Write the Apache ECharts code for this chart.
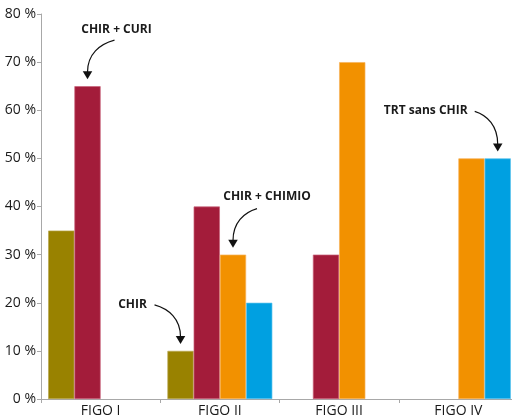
<!DOCTYPE html>
<html>
<head>
<meta charset="utf-8">
<script src="https://cdn.jsdelivr.net/npm/echarts@6/dist/echarts.min.js"></script>
<style>html,body{margin:0;padding:0;background:#fff}#c{width:512px;height:418px}</style>
</head>
<body>
<div id="c"></div>
<script>
const categories = ['FIGO I', 'FIGO II', 'FIGO III', 'FIGO IV'];
const chirValues = [35, 10, '-', '-'];
const chirCuriValues = [65, 40, 30, '-'];
const chirChimioValues = ['-', 30, 70, 50];
const trtSansChirValues = ['-', 20, '-', 50];
const yTicks = [0, 10, 20, 30, 40, 50, 60, 70, 80];

// annotations: label, series index, category index, value, text offset, curve start offset
const annotations = [
  { text: 'CHIR + CURI', s: 1, c: 0, v: 65, tx: 29, ty: -50, sx: 27, sy: -39 },
  { text: 'CHIR + CHIMIO', s: 2, c: 1, v: 30, tx: 34, ty: -51, sx: 24, sy: -39 },
  { text: 'CHIR', s: 0, c: 1, v: 10, tx: -48, ty: -39, sx: -26, sy: -39 },
  { text: 'TRT sans CHIR', s: 3, c: 3, v: 50, tx: -72, ty: -41, sx: -23, sy: -40 }
];

const colors = ['#998200', '#a31c3a', '#f29100', '#00a0e1'];
const borders = ['#b8a850', '#c9627a', '#f7b35a', '#5cc3ec'];
const names = ['CHIR', 'CHIR + CURI', 'CHIR + CHIMIO', 'TRT sans CHIR'];
const data = [chirValues, chirCuriValues, chirChimioValues, trtSansChirValues];

const chart = echarts.init(document.getElementById('c'), null, { renderer: 'canvas' });
const option = {
  animation: false,
  backgroundColor: '#fff',
  grid: { left: 41, top: 14, bottom: 19, width: 477, containLabel: false, outerBoundsMode: 'none' },
  xAxis: {
    type: 'category',
    data: categories,
    axisLine: { lineStyle: { color: '#a8a8a8', width: 1 } },
    axisTick: { show: true, length: 4, lineStyle: { color: '#a8a8a8' } },
    axisLabel: { color: '#1a1a1a', fontSize: 14, fontFamily: 'Open Sans', margin: 5 }
  },
  yAxis: {
    type: 'value',
    min: yTicks[0],
    max: yTicks[yTicks.length - 1],
    interval: yTicks[1] - yTicks[0],
    axisLine: { show: true, lineStyle: { color: '#a8a8a8', width: 1 } },
    axisTick: { show: true, length: 4, lineStyle: { color: '#a8a8a8' } },
    splitLine: { show: false },
    axisLabel: { color: '#1a1a1a', fontSize: 14, fontFamily: 'Open Sans', margin: 5, formatter: '{value} %' }
  },
  series: data.map((d, i) => ({
    type: 'bar',
    name: names[i],
    data: d,
    barGap: '0%',
    barCategoryGap: '12%',
    itemStyle: { color: colors[i], borderColor: borders[i], borderWidth: 0.7 }
  }))
};
chart.setOption(option);

function arrow(a) {
  const p = chart.convertToPixel({ seriesIndex: a.s }, [a.c, a.v]);
  const layout = chart.getModel().getSeriesByIndex(a.s).getData().getItemLayout(a.c);
  const cx = layout ? layout.x + layout.width / 2 : p[0];
  const tipX = cx, tipY = p[1] - 7;
  const headH = 8, headW = 9.5;
  const sx = tipX + a.sx, sy = tipY + a.sy;
  const ex = tipX, ey = tipY - headH;
  const dx = sx - ex;
  return [
    {
      type: 'text',
      style: {
        text: a.text, x: tipX + a.tx, y: tipY + a.ty,
        textAlign: 'center', textVerticalAlign: 'middle',
        font: 'bold 12px "Open Sans"', fill: '#1a1a1a'
      }
    },
    {
      type: 'bezierCurve',
      shape: { x1: sx, y1: sy, cpx1: sx - dx * 0.55, cpy1: sy + 4, cpx2: ex, cpy2: ey - (ey - sy) * 0.55, x2: ex, y2: ey + 1 },
      style: { stroke: '#111', lineWidth: 1.2, fill: null }
    },
    {
      type: 'polygon',
      shape: { points: [[tipX - headW / 2, tipY - headH], [tipX + headW / 2, tipY - headH], [tipX, tipY]] },
      style: { fill: '#111' }
    }
  ];
}

let g = [];
annotations.forEach(a => { g = g.concat(arrow(a)); });
chart.setOption({ graphic: g });
</script>
</body>
</html>
